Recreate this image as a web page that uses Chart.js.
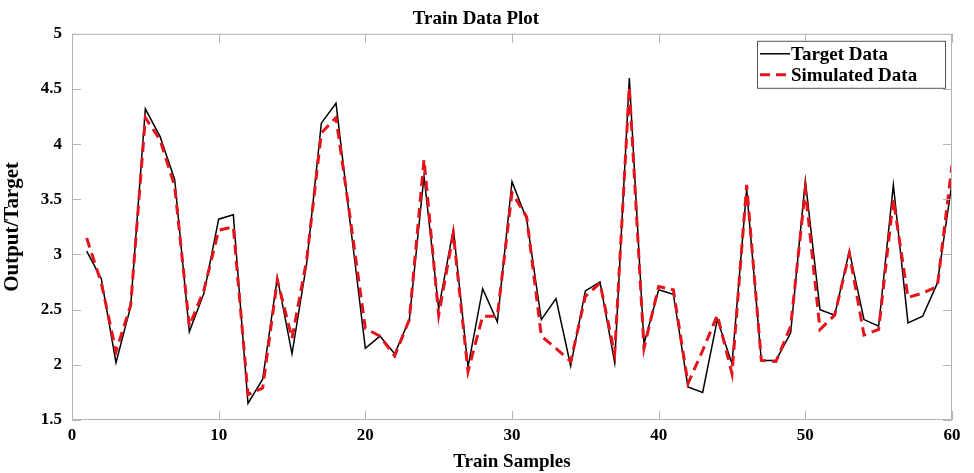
<!DOCTYPE html>
<html>
<head>
<meta charset="utf-8">
<script src="https://cdn.jsdelivr.net/npm/chart.js@4"></script>
<style>
  html, body { margin: 0; padding: 0; background: #fff; }
  #wrap { width: 974px; height: 473px; position: relative; }
</style>
</head>
<body>
<div id="wrap"><canvas id="trainChart"></canvas></div>
<script>
const samples = [1,2,3,4,5,6,7,8,9,10,11,12,13,14,15,16,17,18,19,20,
                 21,22,23,24,25,26,27,28,29,30,31,32,33,34,35,36,37,38,39,40,
                 41,42,43,44,45,46,47,48,49,50,51,52,53,54,55,56,57,58,59,60];
const targetData = [3.03,2.78,2.02,2.53,4.32,4.07,3.68,2.30,2.65,3.32,
                    3.36,1.65,1.87,2.79,2.10,2.92,4.19,4.37,3.25,2.15,
                    2.26,2.10,2.41,3.71,2.51,3.23,1.98,2.69,2.39,3.66,
                    3.32,2.41,2.60,1.99,2.67,2.75,2.02,4.60,2.19,2.68,
                    2.64,1.80,1.75,2.41,2.01,3.59,2.04,2.04,2.29,3.67,
                    2.50,2.45,3.03,2.41,2.35,3.63,2.38,2.44,2.74,3.65];
const simulatedData = [3.15,2.74,2.12,2.54,4.24,4.04,3.62,2.35,2.68,3.22,
                       3.25,1.73,1.79,2.77,2.24,2.95,4.10,4.24,3.30,2.33,
                       2.26,2.08,2.41,3.86,2.45,3.19,1.94,2.44,2.44,3.56,
                       3.34,2.26,2.15,2.03,2.62,2.74,2.10,4.52,2.15,2.71,
                       2.68,1.83,2.13,2.45,1.92,3.63,2.04,2.03,2.35,3.59,
                       2.32,2.45,3.01,2.27,2.32,3.50,2.61,2.65,2.71,3.81];
const xTicks = [0,10,20,30,40,50,60];
const yTicks = [1.5,2,2.5,3,3.5,4,4.5,5];

const serif = '"Liberation Serif", "Times New Roman", serif';

function toPoints(ys) {
    return samples.map((x, i) => ({ x: x, y: ys[i] }));
}

// box around the plot, inward ticks on all four sides, legend with border
const framePlugin = {
    id: 'frame',
    afterDraw(chart) {
        const ctx = chart.ctx;
        const a = chart.chartArea;
        const xs = chart.scales.x, ys = chart.scales.y;
        ctx.save();
        ctx.strokeStyle = '#b4b4b4';
        ctx.lineWidth = 1;
        ctx.strokeRect(a.left + 0.5, a.top + 0.5, a.right - a.left - 1, a.bottom - a.top - 1);
        ctx.beginPath();
        xTicks.forEach(v => {
            const px = Math.round(xs.getPixelForValue(v)) + 0.5;
            ctx.moveTo(px, a.bottom); ctx.lineTo(px, a.bottom - 9);
            ctx.moveTo(px, a.top); ctx.lineTo(px, a.top + 9);
        });
        yTicks.forEach(v => {
            const py = Math.round(ys.getPixelForValue(v)) + 0.5;
            ctx.moveTo(a.left, py); ctx.lineTo(a.left + 9, py);
            ctx.moveTo(a.right, py); ctx.lineTo(a.right - 9, py);
        });
        ctx.stroke();

        // legend
        const bw = 188, bh = 47;
        const bx = a.right - 7 - bw, by = a.top + 7;
        ctx.fillStyle = '#fff';
        ctx.fillRect(bx, by, bw, bh);
        ctx.strokeStyle = '#555';
        ctx.strokeRect(bx + 0.5, by + 0.5, bw, bh);
        ctx.font = 'bold 19px ' + serif;
        ctx.textBaseline = 'middle';
        chart.data.datasets.forEach((ds, i) => {
            const ly = by + 13 + i * 21;
            ctx.strokeStyle = ds.borderColor;
            ctx.lineWidth = ds.borderWidth;
            ctx.setLineDash(ds.borderDash || []);
            ctx.beginPath();
            ctx.moveTo(bx + 3, ly); ctx.lineTo(bx + 33, ly);
            ctx.stroke();
            ctx.setLineDash([]);
            ctx.fillStyle = '#000';
            ctx.fillText(ds.label, bx + 34, ly + 1);
        });
        ctx.restore();
    }
};

const ctx = document.getElementById('trainChart').getContext('2d');
const trainChart = new Chart(ctx, {
    type: 'line',
    data: {
        datasets: [{
            label: 'Target Data',
            data: toPoints(targetData),
            borderColor: '#000000',
            borderWidth: 1.5,
            pointRadius: 0,
            tension: 0,
            order: 2
        }, {
            label: 'Simulated Data',
            data: toPoints(simulatedData),
            borderColor: '#e3141b',
            borderWidth: 3,
            borderDash: [10, 6],
            pointRadius: 0,
            tension: 0,
            order: 1
        }]
    },
    options: {
        responsive: true,
        maintainAspectRatio: false,
        animation: false,
        layout: { padding: { left: 0, right: 22, top: 0, bottom: 0 } },
        plugins: {
            legend: { display: false },
            tooltip: { enabled: false },
            title: {
                display: true,
                text: 'Train Data Plot',
                color: '#000',
                font: { family: serif, size: 19, weight: 'bold' },
                padding: { top: 8, bottom: 3 }
            }
        },
        scales: {
            x: {
                type: 'linear',
                min: 0, max: 60,
                afterFit: s => { s.height = 53; },
                afterBuildTicks: s => { s.ticks = xTicks.map(v => ({ value: v })); },
                grid: { drawOnChartArea: false, drawTicks: false },
                border: { display: false },
                ticks: { color: '#000', padding: 5, maxRotation: 0,
                         callback: v => String(v),
                         font: { family: serif, size: 17, weight: 'bold' } },
                title: { display: true, text: 'Train Samples', color: '#000', padding: { top: 0, bottom: 0 },
                         font: { family: serif, size: 19, weight: 'bold' } }
            },
            y: {
                min: 1.5, max: 5,
                afterFit: s => { s.width = 72; },
                afterBuildTicks: s => { s.ticks = yTicks.map(v => ({ value: v })); },
                grid: { drawOnChartArea: false, drawTicks: false },
                border: { display: false },
                ticks: { color: '#000', padding: 10,
                         callback: v => String(v),
                         font: { family: serif, size: 17, weight: 'bold' } },
                title: { display: true, text: 'Output/Target', color: '#000', padding: { top: 0, bottom: 0 },
                         font: { family: serif, size: 21, weight: 'bold' } }
            }
        }
    },
    plugins: [framePlugin]
});
</script>
</body>
</html>
